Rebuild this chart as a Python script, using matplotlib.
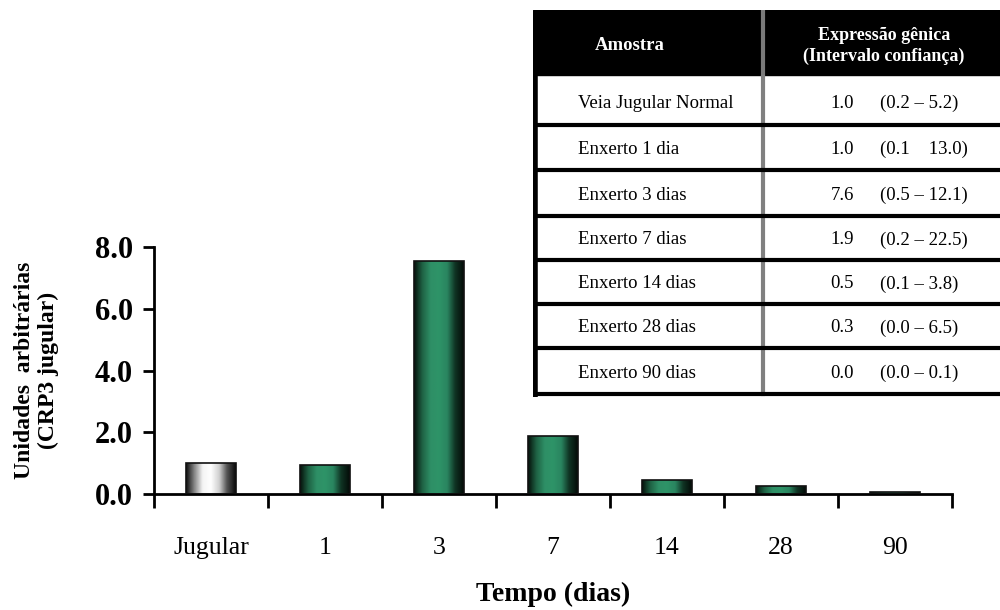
import numpy as np
import matplotlib
matplotlib.use('Agg')
import matplotlib.pyplot as plt
from matplotlib.colors import LinearSegmentedColormap
from matplotlib.patches import Rectangle

plt.rcParams['font.family'] = ['Liberation Serif', 'DejaVu Serif']

# dados do grafico
categorias = ['Jugular', '1', '3', '7', '14', '28', '90']
valores = [1.0, 0.95, 7.55, 1.87, 0.45, 0.26, 0.08]

# dados da tabela
amostras = ['Veia Jugular Normal', 'Enxerto 1 dia', 'Enxerto 3 dias', 'Enxerto 7 dias',
            'Enxerto 14 dias', 'Enxerto 28 dias', 'Enxerto 90 dias']
expressao = ['1.0', '1.0', '7.6', '1.9', '0.5', '0.3', '0.0']
intervalo = ['(0.2 \u2013 5.2)', '(0.1    13.0)', '(0.5 \u2013 12.1)', '(0.2 \u2013 22.5)',
             '(0.1 \u2013 3.8)', '(0.0 \u2013 6.5)', '(0.0 \u2013 0.1)']

fig = plt.figure(figsize=(10, 6.1), dpi=100)
ax = fig.add_axes([0.154, 0.19, 0.798, 0.405])

x = np.arange(len(categorias))
bars = ax.bar(x, valores, width=0.43, color='none', edgecolor='#111111', linewidth=1.2, zorder=3)

verde = LinearSegmentedColormap.from_list('verde', ['#06140d', '#1f6445', '#2e8f66', '#2e9468', '#2a8560', '#0f3323', '#040c08'])
cinza = LinearSegmentedColormap.from_list('cinza', ['#101010', '#8a8a8a', '#f4f4f4', '#ffffff', '#d0d0d0', '#505050', '#0a0a0a'])
grad = np.linspace(0, 1, 64).reshape(1, -1)
for i, b in enumerate(bars):
    x0, y0 = b.get_x(), b.get_y()
    w, h = b.get_width(), b.get_height()
    cm = cinza if i == 0 else verde
    im = ax.imshow(grad, cmap=cm, aspect='auto', extent=[x0, x0 + w, y0, y0 + h],
                   interpolation='bilinear', zorder=2)
    im.set_clip_path(b)

ax.set_xlim(-0.5, len(categorias) - 0.5)
ax.set_ylim(0, 8)
ax.set_yticks([0, 2, 4, 6, 8])
ax.set_yticklabels(['%.1f' % v for v in [0, 2, 4, 6, 8]], fontsize=22, fontweight='bold')
ax.set_xticks(x)
ax.set_xticklabels(categorias, fontsize=18.5)
ax.set_xticks(np.arange(-0.5, len(categorias)), minor=True)
ax.tick_params(axis='x', which='major', length=0, pad=31)
ax.tick_params(axis='x', which='minor', length=10, width=2, direction='out')
ax.tick_params(axis='y', length=8, width=2, direction='out', pad=7)
for s in ['top', 'right']:
    ax.spines[s].set_visible(False)
for s in ['left', 'bottom']:
    ax.spines[s].set_linewidth(2)
ax.set_xlabel('Tempo (dias)', fontsize=20, fontweight='bold', labelpad=16)
ax.set_ylabel('Unidades  arbitr\u00e1rias\n(CRP3 jugular)', fontsize=17, fontweight='bold',
              labelpad=26, linespacing=1.15)
ax.set_xlim(-0.5, len(categorias) - 0.5)

# tabela em coordenadas de pixel
tab = fig.add_axes([0.533, (610 - 397) / 610, 0.467, 387 / 610])
tab.set_xlim(533, 1000)
tab.set_ylim(397, 10)
tab.axis('off')
tab.add_patch(Rectangle((533, 10), 467, 65, color='black', zorder=1))
tab.plot([763, 763], [12, 73], color='#7a7a7a', lw=3, zorder=2)
tab.text(630, 45, 'Amostra', color='white', fontsize=13.5, fontweight='bold', ha='center', va='center')
tab.text(884, 46, 'Express\u00e3o g\u00eanica\n(Intervalo confian\u00e7a)', color='white',
         fontsize=13, fontweight='bold', ha='center', va='center', linespacing=1.3)
linhas = [77, 125, 170, 216, 260, 304, 348, 394]
for yl in linhas[1:]:
    tab.plot([533, 1000], [yl, yl], color='black', lw=3, zorder=3)
tab.plot([535, 535], [75, 396], color='black', lw=4, zorder=3)
tab.plot([763, 763], [77, 394], color='#808080', lw=3, zorder=2)
for i in range(len(amostras)):
    yc = (linhas[i] + linhas[i + 1]) / 2 + 2
    tab.text(578, yc, amostras[i], fontsize=13.5, ha='left', va='center')
    tab.text(842, yc, expressao[i], fontsize=13.5, ha='center', va='center')
    tab.text(880, yc, intervalo[i], fontsize=13.5, ha='left', va='center')

fig.savefig('out.png', dpi=100)
